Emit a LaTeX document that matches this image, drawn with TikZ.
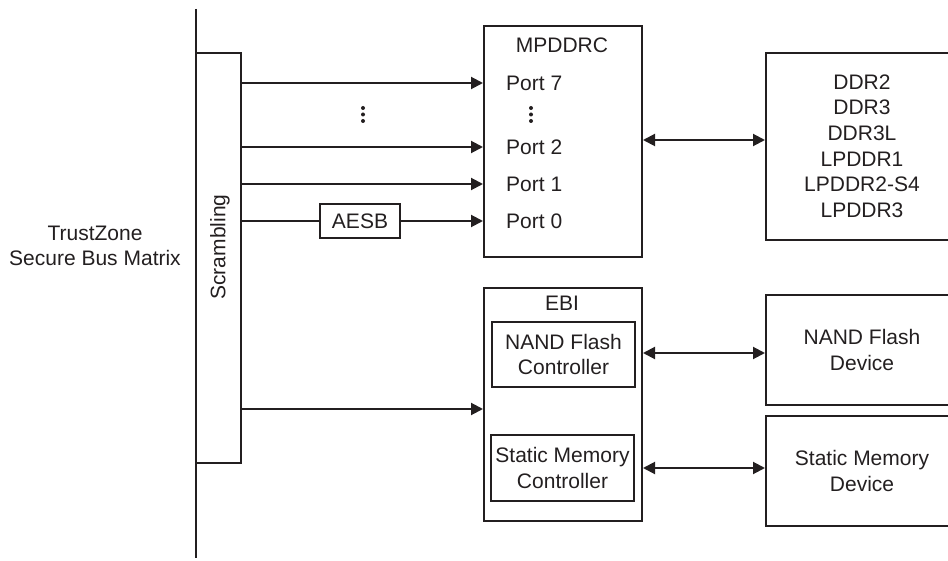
\documentclass[tikz,border=0pt]{standalone}
\usepackage{fontspec}
\setmainfont{Liberation Sans}
\usetikzlibrary{arrows.meta}
\definecolor{ink}{HTML}{231F20}
\tikzset{
  box/.style={draw=ink, line width=2pt, rectangle, inner sep=0pt, text=ink, align=center},
  lbl/.style={text=ink, inner sep=0pt, align=center},
  arr/.style={draw=ink, line width=2pt, -{Triangle[length=12pt,width=12pt]}},
  darr/.style={draw=ink, line width=2pt, {Triangle[length=12pt,width=12pt]}-{Triangle[length=12pt,width=12pt]}},
  plain/.style={draw=ink, line width=2pt},
  dot/.style={fill=ink}
}
\begin{document}
\begin{tikzpicture}[x=1pt,y=-1pt,font=\fontsize{21}{25.6}\selectfont]
\useasboundingbox (0,0) rectangle (948,561);
\clip (0,0) rectangle (948,561);
% bus
\coordinate (bustop) at (196,9);
\coordinate (busbot) at (196,558);
\draw[plain] (bustop) -- (busbot);
\node[lbl] (tz) at (95,246) {TrustZone\\Secure Bus Matrix};
% scrambling
\node[box, minimum width=45, minimum height=410] (scr) at (218.5,258) {};
\node[lbl, rotate=90] (scrt) at (220,247) {Scrambling};
% MPDDRC
\node[box, minimum width=158, minimum height=231] (mp) at (563,141.5) {};
\node[lbl] (mpt) at (562,45) {MPDDRC};
\node[lbl, anchor=west] (p7) at (506,83) {Port 7};
\node[lbl, anchor=west] (p2) at (506,147) {Port 2};
\node[lbl, anchor=west] (p1) at (506,184) {Port 1};
\node[lbl, anchor=west] (p0) at (506,221) {Port 0};
\foreach \yy in {108,114.5,121} {
  \fill[dot] (531,\yy) circle (2);
  \fill[dot] (363,\yy) circle (2);
}
\node[box, minimum width=80, minimum height=34] (aesb) at (360,221) {AESB};
\draw[arr] (scr.east |- p7) -- (mp.west |- p7);
\draw[arr] (scr.east |- p2) -- (mp.west |- p2);
\draw[arr] (scr.east |- p1) -- (mp.west |- p1);
\draw[plain] (scr.east |- aesb) -- (aesb.west);
\draw[arr] (aesb.east) -- (mp.west |- aesb);
% DDR box
\node[box, minimum width=192, minimum height=187] (ddr) at (862,146.5) {};
\node[lbl] (ddrt) at (862,146) {DDR2\\DDR3\\DDR3L\\LPDDR1\\LPDDR2-S4\\LPDDR3};
\draw[darr] (mp.east |- 0,140) -- (ddr.west |- 0,140);
% EBI
\node[box, minimum width=158, minimum height=233] (ebi) at (563,404.5) {};
\node[lbl] (ebit) at (562,303) {EBI};
\node[box, minimum width=143, minimum height=65] (nfc) at (563.5,354.5) {NAND Flash\\Controller};
\node[box, minimum width=143, minimum height=66] (smc) at (562.5,468) {Static Memory\\Controller};
\coordinate (ebiin) at (241,409);
\draw[arr] (scr.east |- ebiin) -- (ebi.west |- ebiin);
% devices
\node[box, minimum width=192, minimum height=110] (nfd) at (862,350) {NAND Flash\\Device};
\node[box, minimum width=192, minimum height=110] (smd) at (862,471) {Static Memory\\Device};
\draw[darr] (ebi.east |- 0,353) -- (nfd.west |- 0,353);
\draw[darr] (ebi.east |- 0,468) -- (smd.west |- 0,468);
\end{tikzpicture}
\end{document}
